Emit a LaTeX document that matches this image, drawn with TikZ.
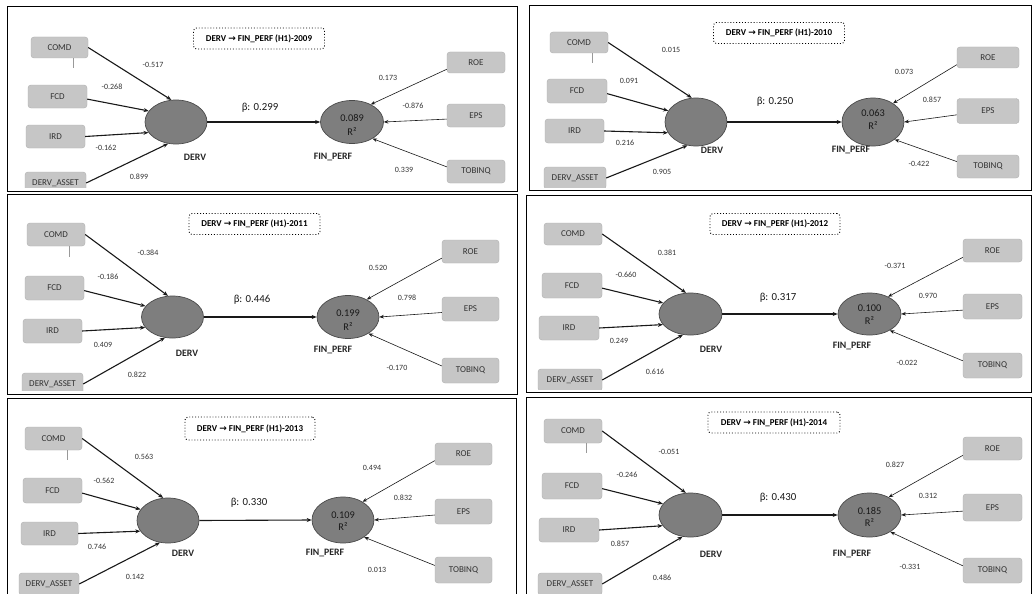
\documentclass[tikz,border=0pt]{standalone}
\usepackage{fontspec}
\setmainfont{Carlito}
\newfontfamily\arrowfont{DejaVu Sans}
\usetikzlibrary{arrows.meta,shapes.geometric,calc}
\definecolor{boxgray}{HTML}{C6C6C6}
\definecolor{boxedge}{HTML}{AFAFAF}
\definecolor{ellgray}{HTML}{7E7E7E}
\definecolor{elledge}{HTML}{4A4A4A}
\definecolor{txtgray}{HTML}{333333}
\tikzset{
  ind/.style={rectangle, rounded corners=3pt, fill=boxgray, draw=boxedge, line width=0.4pt,
    text=txtgray, font=\fontsize{9}{10}\selectfont, minimum width=58pt, minimum height=23pt, inner sep=0pt},
  lat/.style={ellipse, fill=ellgray, draw=elledge, line width=0.7pt, inner sep=0pt,
    minimum width=62pt, minimum height=44pt},
  coef/.style={font=\fontsize{8}{9}\selectfont, text=txtgray, inner sep=0pt},
  latlbl/.style={font=\bfseries\fontsize{9.8}{11}\selectfont, text=black!85, inner sep=0pt},
  betalbl/.style={font=\fontsize{10.8}{12}\selectfont, text=black!90, inner sep=0pt},
  rval/.style={font=\fontsize{10.3}{12}\selectfont, text=black!90, inner sep=0pt},
  ttlbox/.style={draw, dotted, line width=0.9pt, rounded corners=3pt, minimum width=131pt,
    minimum height=21pt, inner sep=0pt, font=\bfseries\fontsize{9}{10}\selectfont},
  inarr/.style={-{Stealth[length=5pt,width=4pt]}, line width=1.1pt, black!90},
  outarr/.style={-{Stealth[length=4.5pt,width=3.6pt]}, line width=0.6pt, black!90},
  vtick/.style={draw=gray!80, line width=0.6pt},
  framel/.style={line width=1pt, black}
}
\newcommand\ttltext[1]{DERV {\arrowfont\bfseries →} FIN\_PERF (H1)-#1}
\begin{document}
\begin{tikzpicture}[x=1pt,y=-1pt]
\useasboundingbox[fill=white] (0,0) rectangle (1033,594);

% ================= Panel 1 (2009) =================
\begin{scope}
\clip (7,7) rectangle (517,187);
\node[ttlbox] (t1) at (259,38.5) {\ttltext{2009}};
\node[ind, minimum width=57pt, minimum height=21pt] (comd1) at (59.5,47.5) {COMD};
\node[ind, minimum width=59pt] (fcd1) at (57.5,96.5) {FCD};
\node[ind, minimum width=59pt] (ird1) at (55.5,136.5) {IRD};
\node[ind, minimum width=61pt, minimum height=22pt] (dass1) at (55.5,183) {DERV\_ASSET};
\node[lat] (derv1) at (176,122) {};
\node[lat, minimum width=63pt, minimum height=43pt] (fin1) at (352,122) {};
\node[ind, minimum height=21pt] (roe1) at (476,62.5) {ROE};
\node[ind] (eps1) at (476,115.5) {EPS};
\node[ind] (tob1) at (476,171.5) {TOBINQ};
\end{scope}
\draw[vtick] ($(comd1.south)+(13.5,0)$) -- ++(0,10);
\node[latlbl] (dl1) at (195,157) {DERV};
\node[latlbl] (fl1) at (333,157) {FIN\_PERF};
\node[betalbl] (b1) at (260,108) {β: 0.299};
\node[rval] (rv1) at (352,118) {0.089};
\node[rval] (rr1) at (352,132) {R²};
\draw[inarr] (comd1.east) -- (derv1.102);
\draw[inarr] (fcd1.355) -- (derv1.158);
\draw[inarr] (ird1.east) -- (derv1.201);
\draw[inarr] (dass1.east) -- (derv1.250);
\draw[inarr] (derv1.east) -- (fin1.west);
\draw[outarr] (roe1.193) -- (fin1.43);
\draw[outarr] (eps1.187) -- (fin1.0);
\draw[outarr] (tob1.171) -- (fin1.321);
\node[coef] (c11) at (153,65) {-0.517};
\node[coef] (c12) at (112,87) {-0.268};
\node[coef] (c13) at (106,148) {-0.162};
\node[coef] (c14) at (139,177) {0.899};
\node[coef] (c15) at (388,78) {0.173};
\node[coef] (c16) at (413,106) {-0.876};
\node[coef] (c17) at (404,170) {0.339};
\draw[framel] (7,7) rectangle (517,191);

% ================= Panel 2 (2010) =================
\begin{scope}
\clip (529,6) rectangle (1031,187);
\node[ttlbox] (t2) at (779,33) {\ttltext{2010}};
\node[ind, minimum height=21pt] (comd2) at (579,42.5) {COMD};
\node[ind, minimum width=60pt, minimum height=24pt] (fcd2) at (577,91) {FCD};
\node[ind, minimum width=59pt, minimum height=24pt] (ird2) at (574.5,131) {IRD};
\node[ind, minimum width=62pt, minimum height=22pt] (dass2) at (575,178) {DERV\_ASSET};
\node[lat, minimum height=48pt] (derv2) at (696,122) {};
\node[lat, minimum height=48pt] (fin2) at (873,122) {};
\node[ind, minimum width=62pt, minimum height=21pt] (roe2) at (988,57.5) {ROE};
\node[ind, minimum width=62pt, minimum height=25pt] (eps2) at (988,111) {EPS};
\node[ind, minimum width=62pt] (tob2) at (988,166.5) {TOBINQ};
\end{scope}
\draw[vtick] ($(comd2.south)+(13,0)$) -- ++(0,10);
\node[latlbl] (dl2) at (712,150) {DERV};
\node[latlbl] (fl2) at (851,150) {FIN\_PERF};
\node[betalbl] (b2) at (775,102) {β: 0.250};
\node[rval] (rv2) at (873,113) {0.063};
\node[rval] (rr2) at (873,126) {R²};
\draw[inarr] (comd2.east) -- (derv2.100);
\draw[inarr] (fcd2.355) -- (derv2.158);
\draw[inarr] (ird2.east) -- (derv2.201);
\draw[inarr] (dass2.east) -- (derv2.250);
\draw[inarr] (derv2.east) -- (fin2.west);
\draw[outarr] (roe2.193) -- (fin2.43);
\draw[outarr] (eps2.187) -- (fin2.0);
\draw[outarr] (tob2.171) -- (fin2.321);
\node[coef] (c21) at (671,50) {0.015};
\node[coef] (c22) at (629,81) {0.091};
\node[coef] (c23) at (625,143) {0.216};
\node[coef] (c24) at (662,172) {0.905};
\node[coef] (c25) at (904,72) {0.073};
\node[coef] (c26) at (932,100) {0.857};
\node[coef] (c27) at (919,164) {-0.422};
\draw[framel] (529,6) rectangle (1031,190);

% ================= Panel 3 (2011) =================
\begin{scope}
\clip (7,194) rectangle (517,390);
\node[ttlbox] (t3) at (254.5,224) {\ttltext{2011}};
\node[ind] (comd3) at (56,234.5) {COMD};
\node[ind, minimum width=59pt, minimum height=24pt] (fcd3) at (54.5,288) {FCD};
\node[ind, minimum width=59pt, minimum height=24pt] (ird3) at (52.5,331) {IRD};
\node[ind, minimum width=61pt, minimum height=22pt] (dass3) at (52.5,384) {DERV\_ASSET};
\node[lat, minimum height=42pt] (derv3) at (172.5,317) {};
\node[lat, minimum height=43pt] (fin3) at (348,317) {};
\node[ind, minimum width=57pt] (roe3) at (470.5,251.5) {ROE};
\node[ind, minimum width=57pt, minimum height=24pt] (eps3) at (470.5,309) {EPS};
\node[ind, minimum width=57pt, minimum height=25pt] (tob3) at (470.5,370.5) {TOBINQ};
\end{scope}
\draw[vtick] ($(comd3.south)+(13,0)$) -- ++(0,11);
\node[latlbl] (dl3) at (187,353) {DERV};
\node[latlbl] (fl3) at (333,350) {FIN\_PERF};
\node[betalbl] (b3) at (252,300) {β: 0.446};
\node[rval] (rv3) at (348,313) {0.199};
\node[rval] (rr3) at (348,327) {R²};
\draw[inarr] (comd3.east) -- (derv3.102);
\draw[inarr] (fcd3.355) -- (derv3.158);
\draw[inarr] (ird3.east) -- (derv3.201);
\draw[inarr] (dass3.east) -- (derv3.250);
\draw[inarr] (derv3.east) -- (fin3.west);
\draw[outarr] (roe3.193) -- (fin3.43);
\draw[outarr] (eps3.187) -- (fin3.0);
\draw[outarr] (tob3.171) -- (fin3.321);
\node[coef] (c31) at (148,253) {-0.384};
\node[coef] (c32) at (108,277) {-0.186};
\node[coef] (c33) at (103,345) {0.409};
\node[coef] (c34) at (137,375) {0.822};
\node[coef] (c35) at (378,268) {0.520};
\node[coef] (c36) at (407,298) {0.798};
\node[coef] (c37) at (397,368) {-0.170};
\draw[framel] (7,194) rectangle (517,394);

% ================= Panel 4 (2012) =================
\begin{scope}
\clip (526,195) rectangle (1031,389);
\node[ttlbox, minimum width=130pt] (t4) at (775,224) {\ttltext{2012}};
\node[ind, minimum height=22pt] (comd4) at (573,234) {COMD};
\node[ind, minimum width=60pt, minimum height=25pt] (fcd4) at (572,285.5) {FCD};
\node[ind, minimum width=60pt, minimum height=24pt] (ird4) at (569,328) {IRD};
\node[ind, minimum width=64pt, minimum height=22pt] (dass4) at (570,380) {DERV\_ASSET};
\node[lat, minimum width=63pt, minimum height=42pt] (derv4) at (690.5,314) {};
\node[lat, minimum width=63pt, minimum height=42pt] (fin4) at (869.5,314) {};
\node[ind, minimum width=59pt] (roe4) at (992.5,250.5) {ROE};
\node[ind, minimum width=59pt, minimum height=25pt] (eps4) at (992.5,306.5) {EPS};
\node[ind, minimum width=59pt, minimum height=25pt] (tob4) at (992.5,365.5) {TOBINQ};
\end{scope}
\node[latlbl] (dl4) at (711,349) {DERV};
\node[latlbl] (fl4) at (852,346) {FIN\_PERF};
\node[betalbl] (b4) at (778,298) {β: 0.317};
\node[rval] (rv4) at (869.5,308) {0.100};
\node[rval] (rr4) at (869.5,321) {R²};
\draw[inarr] (comd4.east) -- (derv4.102);
\draw[inarr] (fcd4.355) -- (derv4.158);
\draw[inarr] (ird4.east) -- (derv4.201);
\draw[inarr] (dass4.east) -- (derv4.250);
\draw[inarr] (derv4.east) -- (fin4.west);
\draw[outarr] (roe4.193) -- (fin4.43);
\draw[outarr] (eps4.187) -- (fin4.0);
\draw[outarr] (tob4.171) -- (fin4.321);
\node[coef] (c41) at (667,253) {0.381};
\node[coef] (c42) at (626,275) {-0.660};
\node[coef] (c43) at (619,341) {0.249};
\node[coef] (c44) at (655,372) {0.616};
\node[coef] (c45) at (895,266) {-0.371};
\node[coef] (c46) at (928,296) {0.970};
\node[coef] (c47) at (907,363) {-0.022};
\draw[framel] (526,195) rectangle (1031,392);

% ================= Panel 5 (2013) =================
\begin{scope}
\clip (7,398) rectangle (516,594);
\node[ttlbox, minimum width=130pt, minimum height=23pt] (t5) at (250,428.5) {\ttltext{2013}};
\node[ind, minimum width=57pt] (comd5) at (53.5,438.5) {COMD};
\node[ind, minimum width=59pt, minimum height=25pt] (fcd5) at (52.5,490.5) {FCD};
\node[ind, minimum width=57pt] (ird5) at (49.5,533.5) {IRD};
\node[ind, minimum width=60pt, minimum height=22pt] (dass5) at (49,584) {DERV\_ASSET};
\node[lat, minimum height=45pt] (derv5) at (168,520.5) {};
\node[lat, minimum height=46pt] (fin5) at (343,520) {};
\node[ind, minimum width=57pt, minimum height=22pt] (roe5) at (463.5,454) {ROE};
\node[ind, minimum width=57pt, minimum height=25pt] (eps5) at (463.5,511.5) {EPS};
\node[ind, minimum width=57pt, minimum height=26pt] (tob5) at (463.5,570) {TOBINQ};
\end{scope}
\draw[vtick] ($(comd5.south)+(13.5,0)$) -- ++(0,10);
\node[latlbl] (dl5) at (183,553) {DERV};
\node[latlbl] (fl5) at (325,553) {FIN\_PERF};
\node[betalbl] (b5) at (249,503) {β: 0.330};
\node[rval] (rv5) at (343,515) {0.109};
\node[rval] (rr5) at (343,527) {R²};
\draw[inarr] (comd5.east) -- (derv5.102);
\draw[inarr] (fcd5.355) -- (derv5.158);
\draw[inarr] (ird5.east) -- (derv5.201);
\draw[inarr] (dass5.east) -- (derv5.250);
\draw[inarr] (derv5.east) -- (fin5.west);
\draw[outarr] (roe5.193) -- (fin5.43);
\draw[outarr] (eps5.187) -- (fin5.0);
\draw[outarr] (tob5.171) -- (fin5.321);
\node[coef] (c51) at (144,457) {0.563};
\node[coef] (c52) at (104,481) {-0.562};
\node[coef] (c53) at (97,547) {0.746};
\node[coef] (c54) at (135,577) {0.142};
\node[coef] (c55) at (372,468) {0.494};
\node[coef] (c56) at (403,498) {0.832};
\node[coef] (c57) at (377,570) {0.013};
\draw[framel] (7,600) -- (7,398) -- (516,398) -- (516,600);

% ================= Panel 6 (2014) =================
\begin{scope}
\clip (526,397) rectangle (1031,594);
\node[ttlbox, minimum width=132pt] (t6) at (774,422.5) {\ttltext{2014}};
\node[ind, minimum height=24pt] (comd6) at (573,431) {COMD};
\node[ind, minimum width=60pt, minimum height=26pt] (fcd6) at (572,486) {FCD};
\node[ind, minimum width=60pt, minimum height=24pt] (ird6) at (569,530) {IRD};
\node[ind, minimum width=64pt, minimum height=22pt] (dass6) at (570,584) {DERV\_ASSET};
\node[lat, minimum width=63pt] (derv6) at (690.5,515) {};
\node[lat, minimum width=63pt] (fin6) at (869.5,515) {};
\node[ind, minimum width=59pt] (roe6) at (992.5,448.5) {ROE};
\node[ind, minimum width=59pt, minimum height=27pt] (eps6) at (992.5,507.5) {EPS};
\node[ind, minimum width=59pt, minimum height=25pt] (tob6) at (992.5,570.5) {TOBINQ};
\end{scope}
\draw[vtick] ($(comd6.south)+(13,0)$) -- ++(0,10);
\node[latlbl] (dl6) at (711,554) {DERV};
\node[latlbl] (fl6) at (852,554) {FIN\_PERF};
\node[betalbl] (b6) at (778,498) {β: 0.430};
\node[rval] (rv6) at (869.5,511) {0.185};
\node[rval] (rr6) at (869.5,523) {R²};
\draw[inarr] (comd6.east) -- (derv6.102);
\draw[inarr] (fcd6.355) -- (derv6.158);
\draw[inarr] (ird6.east) -- (derv6.201);
\draw[inarr] (dass6.east) -- (derv6.250);
\draw[inarr] (derv6.east) -- (fin6.west);
\draw[outarr] (roe6.193) -- (fin6.43);
\draw[outarr] (eps6.187) -- (fin6.0);
\draw[outarr] (tob6.171) -- (fin6.321);
\node[coef] (c61) at (669,452) {-0.051};
\node[coef] (c62) at (627,475) {-0.246};
\node[coef] (c63) at (620,544) {0.857};
\node[coef] (c64) at (662,578) {0.486};
\node[coef] (c65) at (895,465) {0.827};
\node[coef] (c66) at (928,496) {0.312};
\node[coef] (c67) at (910,567) {-0.331};
\draw[framel] (526,600) -- (526,397) -- (1031,397) -- (1031,600);
\end{tikzpicture}
\end{document}
